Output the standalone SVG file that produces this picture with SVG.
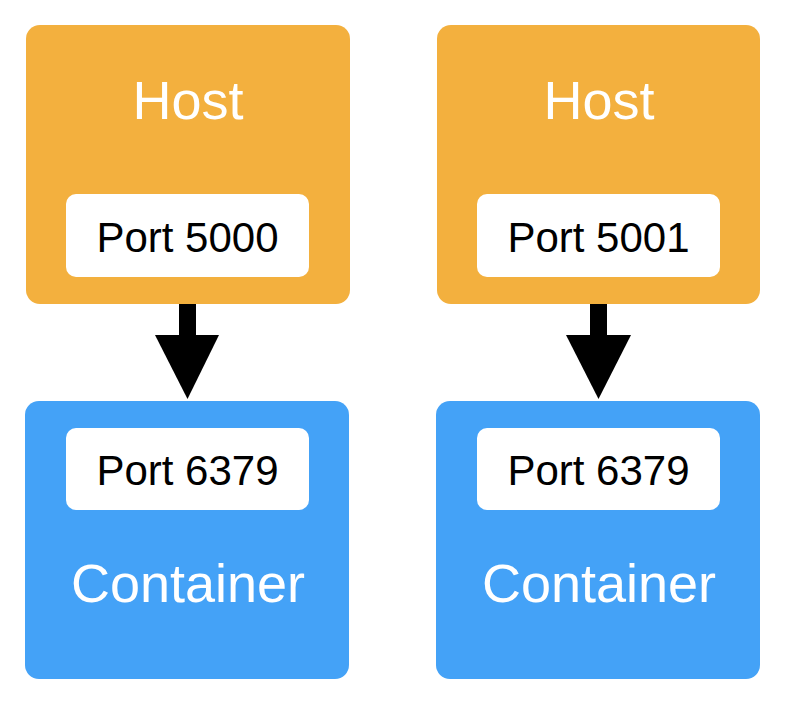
<svg xmlns="http://www.w3.org/2000/svg" width="792" height="718" viewBox="0 0 792 718">
<style>
.host{fill:#F3B03E}
.cont{fill:#44A2F7}
.port{fill:#FFFFFF}
.big{font-family:"Liberation Sans",Arial,sans-serif;font-size:54px;fill:#FFFFFF;text-anchor:middle}
.pt{font-family:"Liberation Sans",Arial,sans-serif;font-size:42px;fill:#000000;text-anchor:middle}
</style>
<rect width="792" height="718" fill="#FFFFFF"/>
<g id="host1">
<rect class="host" x="26" y="25" width="324" height="279" rx="14"/>
<text class="big" x="188" y="119">Host</text>
<rect class="port" x="66" y="194" width="243" height="83" rx="10"/>
<text class="pt" x="187.5" y="252">Port 5000</text>
</g>
<g id="host2">
<rect class="host" x="437" y="25" width="323" height="279" rx="14"/>
<text class="big" x="599" y="119">Host</text>
<rect class="port" x="477" y="194" width="243" height="83" rx="10"/>
<text class="pt" x="598.5" y="252">Port 5001</text>
</g>
<g id="container1">
<rect class="cont" x="25" y="401" width="324" height="278" rx="14"/>
<rect class="port" x="66" y="428" width="243" height="82" rx="10"/>
<text class="pt" x="187.5" y="485">Port 6379</text>
<text class="big" x="188" y="602">Container</text>
</g>
<g id="container2">
<rect class="cont" x="436" y="401" width="324" height="278" rx="14"/>
<rect class="port" x="477" y="428" width="243" height="82" rx="10"/>
<text class="pt" x="598.5" y="485">Port 6379</text>
<text class="big" x="599" y="602">Container</text>
</g>
<g id="connectors" fill="#000000">
<rect x="179" y="304" width="17" height="32"/>
<polygon points="155,335 219,335 187.5,399"/>
<rect x="590" y="304" width="17" height="32"/>
<polygon points="566,335 631,335 598.5,399"/>
</g>
</svg>
